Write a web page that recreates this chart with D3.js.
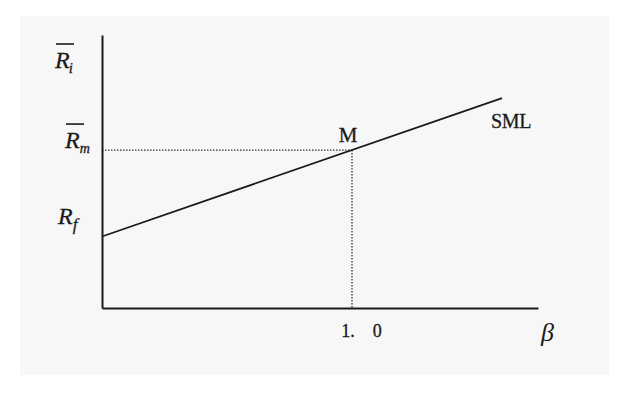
<!DOCTYPE html>
<html><head><meta charset="utf-8">
<script src="https://cdn.jsdelivr.net/npm/d3@7"></script>
<style>body{margin:0;background:#fff}svg{display:block}</style>
</head><body>
<script>
// data
const smlBeta = [0, 1.6];
const riskFree = 5;
const marketReturn = 11.05;
const marketBeta = 1.0;
const xTickValues = [1.0];
const xTickLabels = ["1.\u00A0\u00A0\u00A0\u00A00"];
const betaMax = 1.744;
const returnMax = 19.1;

const W = 631, H = 394;
const svg = d3.select("body").append("svg").attr("width", W).attr("height", H);
svg.append("rect").attr("x", 20).attr("y", 16).attr("width", 589).attr("height", 359).attr("fill", "#f7f7f7");

const x = d3.scaleLinear().domain([0, betaMax]).range([102, 538]);
const y = d3.scaleLinear().domain([0, returnMax]).range([308, 35]);
const sml = b => riskFree + (marketReturn - riskFree) * b;

const ink = "#1a1a1a";
const serif = "'Liberation Serif','Times New Roman',serif";

// dotted guides
svg.append("line").attr("x1", x(0)).attr("x2", x(marketBeta)).attr("y1", y(marketReturn)).attr("y2", y(marketReturn))
  .attr("stroke", "#333").attr("stroke-width", 1.3).attr("stroke-dasharray", "1.5,1.5");
svg.append("line").attr("x1", x(marketBeta)).attr("x2", x(marketBeta)).attr("y1", y(marketReturn)).attr("y2", y(0))
  .attr("stroke", "#333").attr("stroke-width", 1.3).attr("stroke-dasharray", "1.5,1.5");

// axes
const xAxis = svg.append("g").attr("transform", `translate(0,${y(0)})`)
  .call(d3.axisBottom(x).tickValues(xTickValues).tickSize(0).tickPadding(0).tickFormat((d,i) => xTickLabels[i]));
xAxis.select(".domain").attr("stroke", ink).attr("stroke-width", 2);
xAxis.attr("font-family", serif).attr("font-size", 18);
xAxis.selectAll("text").style("font-family", serif).style("font-size", "18px").attr("fill", ink)
  .attr("stroke", ink).attr("stroke-width", 0.3)
  .attr("dy", 0).attr("y", 29).attr("dx", 9);

const yAxis = svg.append("g").attr("transform", `translate(${x(0)},0)`)
  .call(d3.axisLeft(y).tickValues([]).tickSize(0));
yAxis.select(".domain").attr("stroke", ink).attr("stroke-width", 2);

// SML line
svg.append("path").datum(smlBeta)
  .attr("d", d3.line().x(b => x(b)).y(b => y(sml(b))))
  .attr("fill", "none").attr("stroke", ink).attr("stroke-width", 1.7);

// labels
svg.append("text").attr("x", x(marketBeta) - 4).attr("y", y(marketReturn) - 8).attr("text-anchor", "middle")
  .style("font-family", serif).style("font-size", "21px").attr("fill", ink)
  .attr("stroke", ink).attr("stroke-width", 0.3).text("M");
svg.append("text").attr("x", 491).attr("y", 128)
  .style("font-family", serif).style("font-size", "20px").attr("fill", ink)
  .attr("stroke", ink).attr("stroke-width", 0.3).attr("letter-spacing", -0.3).text("SML");
svg.append("text").attr("x", 541).attr("y", 341)
  .style("font-family", serif).style("font-style", "italic").style("font-size", "26px").attr("fill", ink).text("β");

function rLabel(xp, yp, sub, subDx, subDy, subSize, bar) {
  const t = svg.append("text").attr("x", xp).attr("y", yp)
    .style("font-family", serif).style("font-style", "italic").style("font-size", "24px").attr("fill", ink)
    .attr("stroke", ink).attr("stroke-width", 0.3);
  t.append("tspan").text("R");
  t.append("tspan").attr("dx", subDx).attr("dy", subDy).style("font-size", subSize + "px").text(sub);
  if (bar) svg.append("line").attr("x1", xp + 1).attr("x2", xp + 19).attr("y1", yp - 24).attr("y2", yp - 24)
    .attr("stroke", ink).attr("stroke-width", 1.6);
}
rLabel(55, 68, "i", -1, 5, 15, true);
rLabel(65, y(marketReturn) - 2, "m", 0, 5, 14, true);
rLabel(58, y(riskFree) - 13, "f", 0, 6, 17, false);
</script>
</body></html>
